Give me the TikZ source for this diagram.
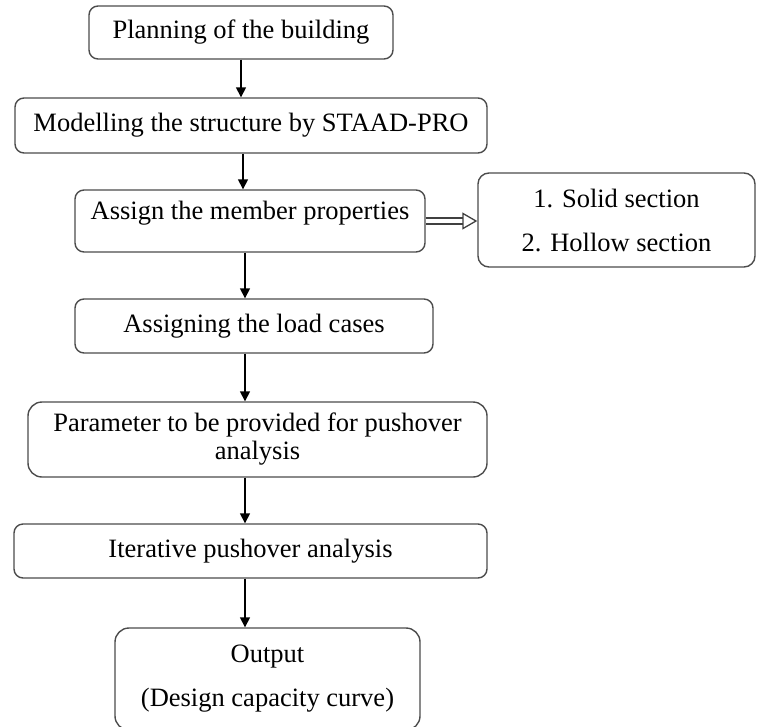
\documentclass[tikz,border=0pt]{standalone}
\usepackage{fontspec}
\setmainfont{Liberation Serif}
\usetikzlibrary{arrows.meta, positioning}

\tikzset{
  stepbox/.style={draw=black!70, line width=1.4pt, rounded corners=9pt, align=center,
    font=\fontsize{26.5}{30}\selectfont, inner sep=0pt},
  flow/.style={line width=1.6pt, -{Triangle[length=10pt, width=10pt]}},
  hollow/.style={draw=black!75, line width=1.3pt, double=white, double distance=4.5pt,
    -{Triangle[open, length=15pt, width=17pt]}}
}

\begin{document}
\begin{tikzpicture}[x=1pt, y=-1pt]
\useasboundingbox (0,0) rectangle (757,726);

\node[stepbox, minimum width=304pt, minimum height=53pt] (plan) at (241,32.5) {Planning of the building};
\node[stepbox, minimum width=472pt, minimum height=55pt] (model) at (251,125.5) {Modelling the structure by STAAD-PRO};
\node[stepbox, minimum width=350pt, minimum height=62pt, text depth=22pt] (assign) at (250,221) {Assign the member properties};
\node[stepbox, minimum width=277pt, minimum height=94pt, rounded corners=11pt] (section) at (616.5,220) {1. Solid section\\[14pt]2. Hollow section};
\node[stepbox, minimum width=358pt, minimum height=54pt] (load) at (254,326) {Assigning the load cases};
\node[stepbox, minimum width=459pt, minimum height=75pt, rounded corners=14pt] (param) at (257.5,439.5) {Parameter to be provided for pushover\\[-2pt]analysis};
\node[stepbox, minimum width=473pt, minimum height=54pt] (iter) at (250.5,551) {Iterative pushover analysis};
\node[stepbox, minimum width=305pt, minimum height=102pt, rounded corners=14pt] (output) at (267.5,679) {Output\\[14pt](Design capacity curve)};

\coordinate (axis) at (245,0);

\draw[flow] (plan.south) -- (plan.south |- model.north);
\draw[flow] (model.south -| 243,0) -- (assign.north -| 243,0);
\draw[flow] (assign.south -| axis) -- (load.north -| axis);
\draw[flow] (load.south -| axis) -- (param.north -| axis);
\draw[flow] (param.south -| axis) -- (iter.north -| axis);
\draw[flow] (iter.south -| axis) -- (output.north -| axis);

\draw[hollow] (assign.east) -- (assign.east -| section.west);
\end{tikzpicture}
\end{document}
